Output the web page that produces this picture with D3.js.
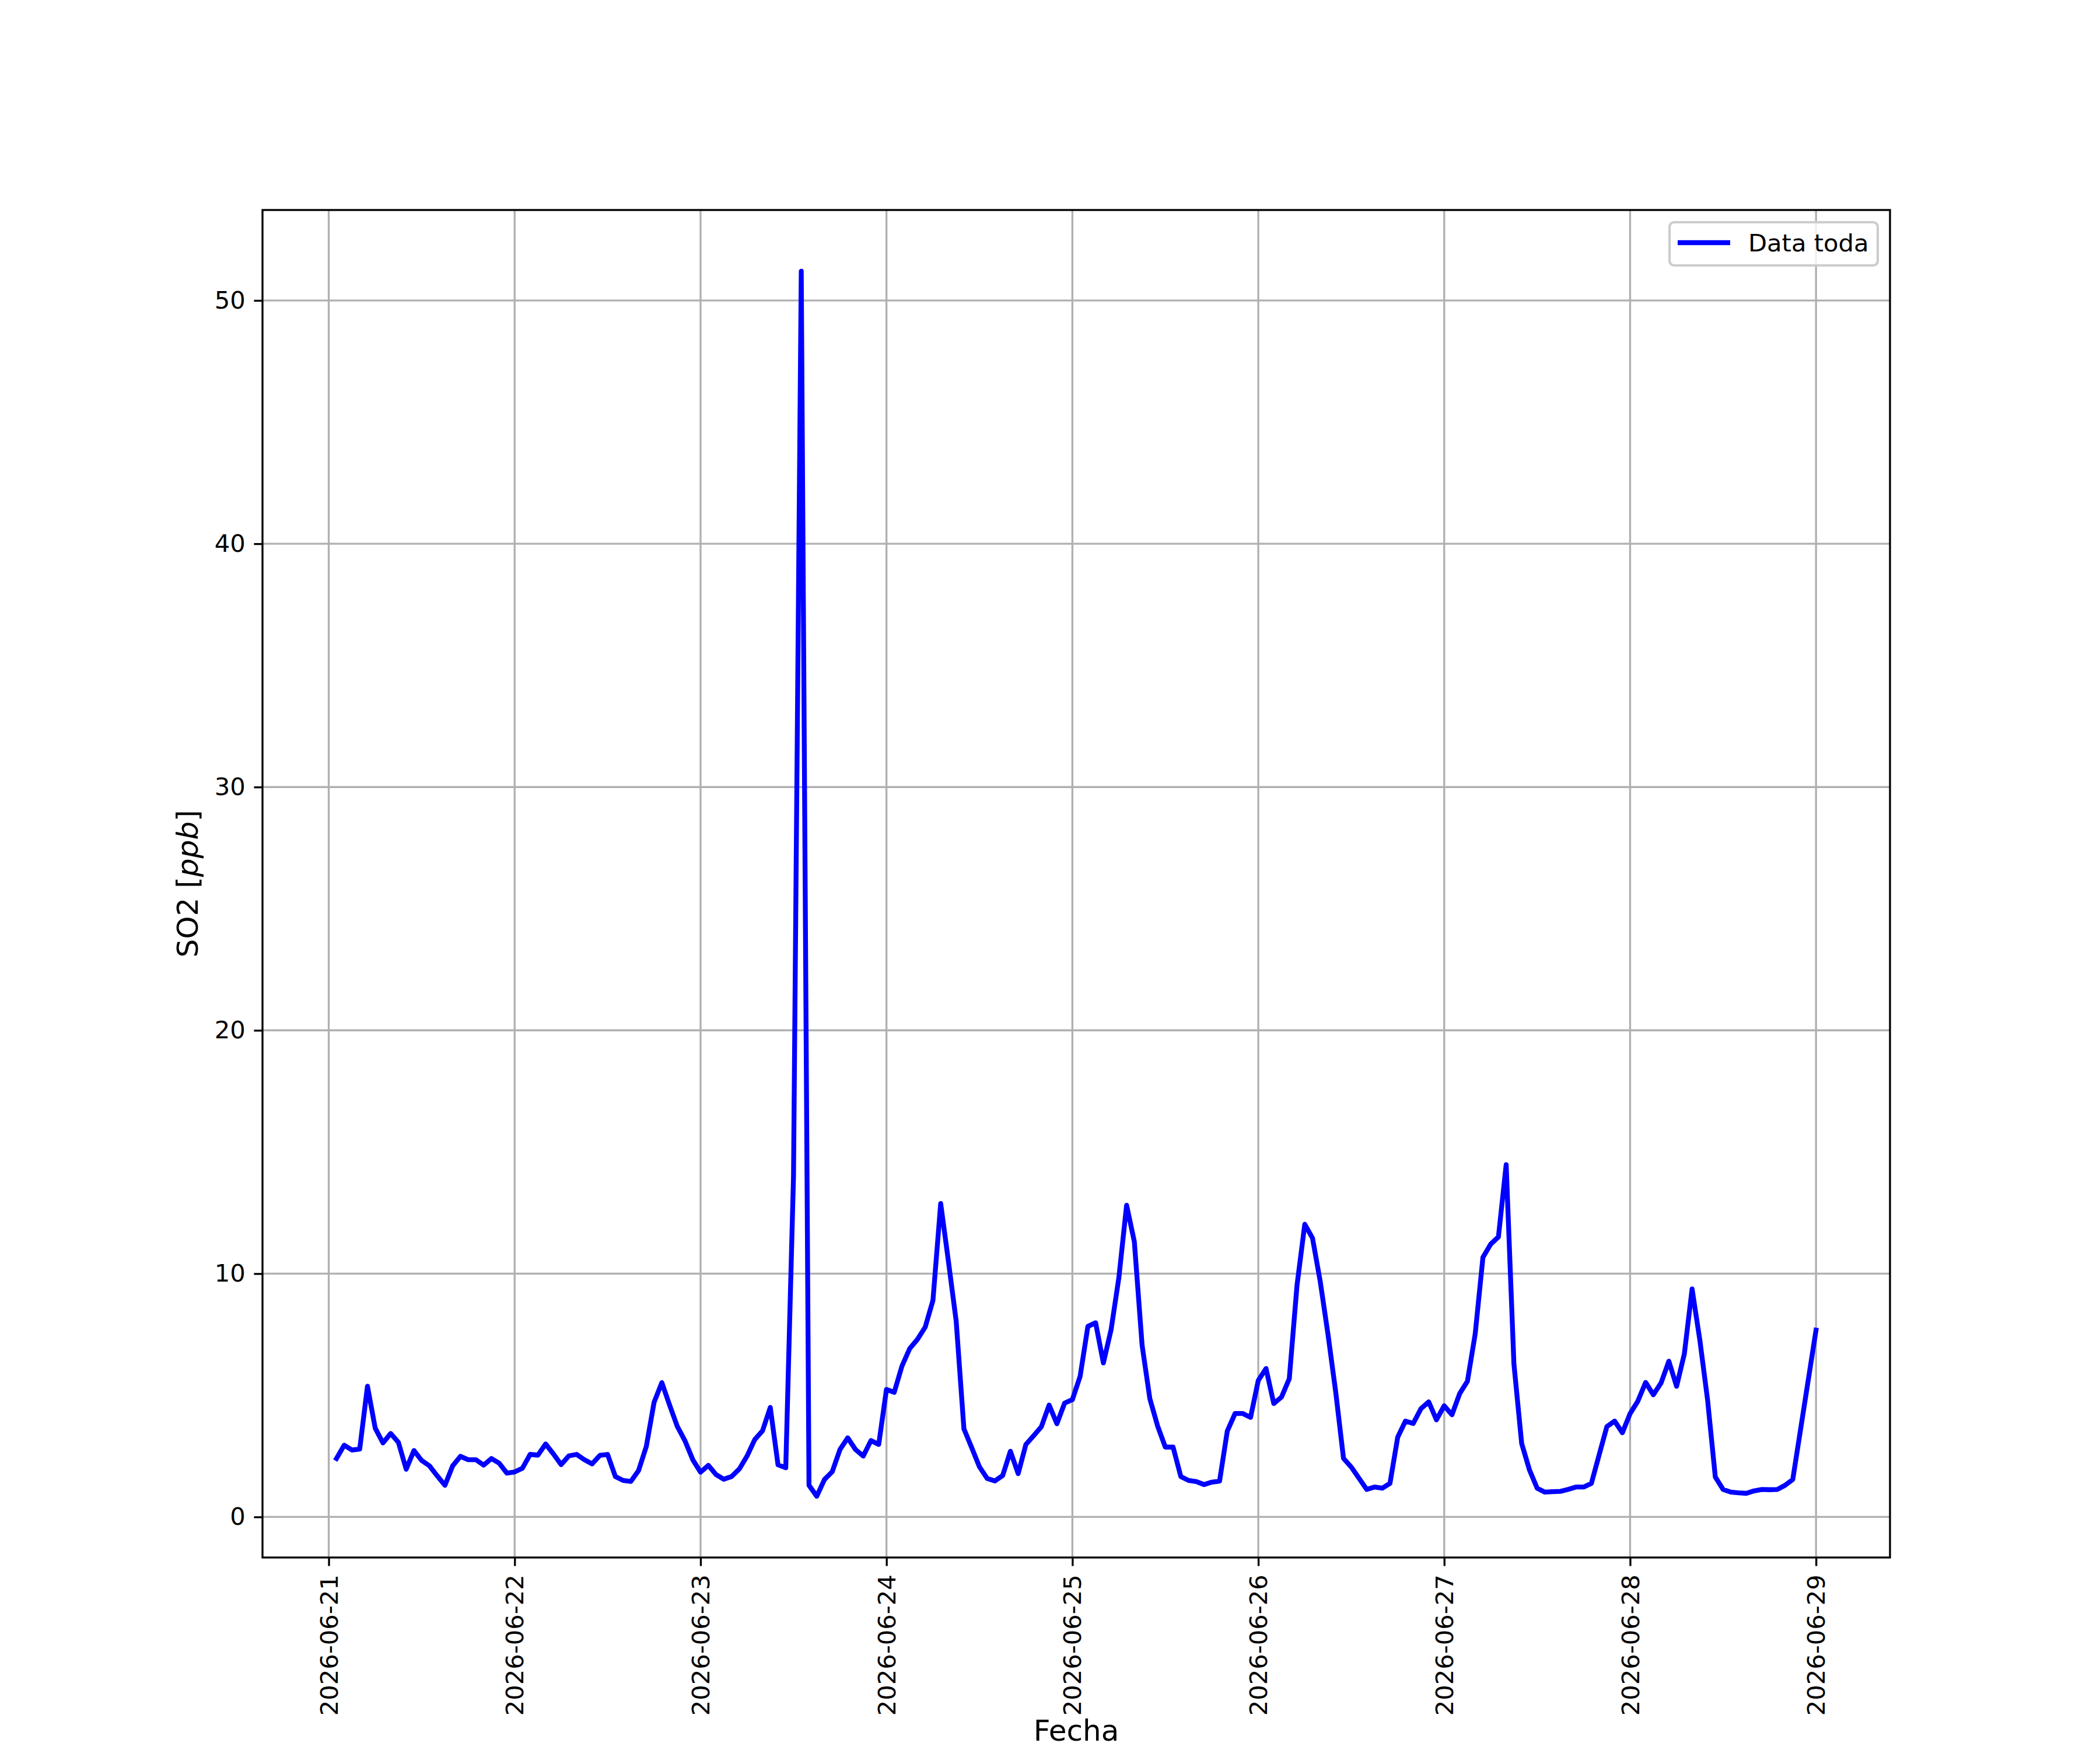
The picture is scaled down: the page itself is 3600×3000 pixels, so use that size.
<!DOCTYPE html>
<html>
<head>
<meta charset="utf-8">
<script src="https://cdn.jsdelivr.net/npm/d3@7"></script>
<style>
  html, body { margin: 0; padding: 0; background: #ffffff; }
  svg { display: block; }
</style>
</head>
<body>
<script>
// ---------------- DATA ----------------
// Hourly SO2 readings [ppb], first reading 2026-06-21 01:00, last 2026-06-29 00:00
const seriesName = "Data toda";
const firstTimestamp = "2026-06-21T01:00:00Z";
const so2Day1 = [2.40, 2.95, 2.75, 2.79, 5.37, 3.65, 3.04, 3.43, 3.06, 1.96, 2.73, 2.32,
                 2.10, 1.69, 1.30, 2.10, 2.49, 2.35, 2.35, 2.13, 2.40, 2.21, 1.80, 1.85];
const so2Day2 = [2.00, 2.57, 2.54, 3.00, 2.59, 2.15, 2.51, 2.57, 2.35, 2.18, 2.53, 2.57,
                 1.66, 1.50, 1.46, 1.91, 2.90, 4.71, 5.52, 4.60, 3.72, 3.12, 2.35, 1.84];
const so2Day3 = [2.12, 1.74, 1.55, 1.66, 1.97, 2.50, 3.18, 3.54, 4.50, 2.14, 2.02, 14.0,
                 51.2, 1.30, 0.85, 1.54, 1.86, 2.77, 3.25, 2.77, 2.50, 3.14, 2.98, 5.24];
const so2Day4 = [5.12, 6.20, 6.92, 7.30, 7.80, 8.90, 12.88, 10.5, 8.05, 3.62, 2.85, 2.06,
                 1.58, 1.48, 1.70, 2.70, 1.78, 2.98, 3.34, 3.71, 4.60, 3.83, 4.68, 4.82];
const so2Day5 = [5.78, 7.83, 7.98, 6.33, 7.70, 9.83, 12.81, 11.31, 7.06, 4.86, 3.74, 2.87,
                 2.87, 1.66, 1.50, 1.45, 1.33, 1.43, 1.47, 3.53, 4.25, 4.25, 4.09, 5.61];
const so2Day6 = [6.10, 4.66, 4.93, 5.68, 9.52, 12.03, 11.46, 9.67, 7.50, 5.12, 2.41, 2.05,
                 1.59, 1.13, 1.23, 1.18, 1.38, 3.28, 3.94, 3.84, 4.45, 4.73, 3.99, 4.57];
const so2Day7 = [4.20, 5.07, 5.58, 7.52, 10.67, 11.21, 11.51, 14.48, 6.29, 3.02, 1.94, 1.18,
                 1.02, 1.04, 1.05, 1.13, 1.23, 1.23, 1.38, 2.55, 3.71, 3.94, 3.46, 4.25];
const so2Day8 = [4.76, 5.53, 5.02, 5.51, 6.40, 5.37, 6.70, 9.37, 7.27, 4.81, 1.64, 1.13,
                 1.02, 0.99, 0.97, 1.07, 1.13, 1.12, 1.13, 1.30, 1.54, null, null, 7.68];
const yTickValues = [0, 10, 20, 30, 40, 50];
const xTickLabels = ["2026-06-21", "2026-06-22", "2026-06-23", "2026-06-24", "2026-06-25",
                     "2026-06-26", "2026-06-27", "2026-06-28", "2026-06-29"];
const xAxisTitle = "Fecha";
const yAxisTitleMain = "SO2 [";
const yAxisTitleItalic = "ppb";
const yAxisTitleEnd = "]";

// ---------------- BUILD ----------------
const allValues = [].concat(so2Day1, so2Day2, so2Day3, so2Day4, so2Day5, so2Day6, so2Day7, so2Day8);
const t0 = Date.parse(firstTimestamp);
const records = allValues
  .map((v, i) => ({ t: new Date(t0 + i * 3600 * 1000), v }))
  .filter(d => d.v !== null);

const W = 3600, H = 3000;
const PT = 300 / 72;                 // px per point at 300 dpi
const plot = { left: 450, right: 3240, top: 360, bottom: 2670 };
const fontTick = 10 * PT, fontLabel = 12 * PT;
const font = "'DejaVu Sans', 'Liberation Sans', sans-serif";

const svg = d3.select("body").append("svg")
  .attr("width", W).attr("height", H)
  .attr("viewBox", `0 0 ${W} ${H}`);
svg.append("rect").attr("width", W).attr("height", H).attr("fill", "#ffffff");

// scales with matplotlib-like 5% margins
const tExt = d3.extent(records, d => d.t.getTime());
const tPad = (tExt[1] - tExt[0]) * 0.05;
const vExt = d3.extent(records, d => d.v);
const vPad = (vExt[1] - vExt[0]) * 0.05;

const x = d3.scaleUtc()
  .domain([new Date(tExt[0] - tPad), new Date(tExt[1] + tPad)])
  .range([plot.left, plot.right]);
const y = d3.scaleLinear()
  .domain([vExt[0] - vPad, vExt[1] + vPad])
  .range([plot.bottom, plot.top]);

const xTickDates = xTickLabels.map(s => new Date(s + "T00:00:00Z"));
const fmt = d3.utcFormat("%Y-%m-%d");

// grid
const grid = svg.append("g").attr("stroke", "#b0b0b0").attr("stroke-width", 0.8 * PT);
grid.selectAll("line.gx").data(xTickDates).join("line")
  .attr("x1", d => x(d)).attr("x2", d => x(d))
  .attr("y1", plot.top).attr("y2", plot.bottom);
grid.selectAll("line.gy").data(yTickValues).join("line")
  .attr("x1", plot.left).attr("x2", plot.right)
  .attr("y1", d => y(d)).attr("y2", d => y(d));

// clip
svg.append("clipPath").attr("id", "clip").append("rect")
  .attr("x", plot.left).attr("y", plot.top)
  .attr("width", plot.right - plot.left).attr("height", plot.bottom - plot.top);

// data line
const line = d3.line().x(d => x(d.t)).y(d => y(d.v));
svg.append("path")
  .datum(records)
  .attr("clip-path", "url(#clip)")
  .attr("d", line)
  .attr("fill", "none")
  .attr("stroke", "#0000ff")
  .attr("stroke-width", 2 * PT)
  .attr("stroke-linejoin", "round")
  .attr("stroke-linecap", "square");

// axes
const tickLen = 3.5 * PT, tickPad = 3.5 * PT;
const yAxis = d3.axisLeft(y).tickValues(yTickValues).tickFormat(d3.format("d"))
  .tickSize(tickLen).tickPadding(tickPad);
const gy = svg.append("g").attr("transform", `translate(${plot.left},0)`).call(yAxis);
gy.select(".domain").remove();
gy.selectAll(".tick line").attr("stroke", "#000").attr("stroke-width", 0.8 * PT);
gy.selectAll(".tick text")
  .attr("fill", "#000").attr("font-family", font).attr("font-size", fontTick);

const xAxis = d3.axisBottom(x).tickValues(xTickDates).tickFormat(fmt)
  .tickSize(tickLen).tickPadding(tickPad);
const gx = svg.append("g").attr("transform", `translate(0,${plot.bottom})`).call(xAxis);
gx.select(".domain").remove();
gx.selectAll(".tick line").attr("stroke", "#000").attr("stroke-width", 0.8 * PT);
gx.selectAll(".tick text")
  .attr("fill", "#000").attr("font-family", font).attr("font-size", fontTick)
  .attr("transform", "rotate(-90)")
  .attr("text-anchor", "end")
  .attr("x", -(tickLen + tickPad)).attr("y", 0).attr("dy", "0.35em");

// spines
svg.append("rect")
  .attr("x", plot.left).attr("y", plot.top)
  .attr("width", plot.right - plot.left).attr("height", plot.bottom - plot.top)
  .attr("fill", "none").attr("stroke", "#000").attr("stroke-width", 0.8 * PT);

// axis titles
svg.append("text")
  .attr("x", (plot.left + plot.right) / 2).attr("y", 2984)
  .attr("text-anchor", "middle")
  .attr("font-family", font).attr("font-size", fontLabel).attr("fill", "#000")
  .text(xAxisTitle);

const yt = svg.append("text")
  .attr("transform", `translate(339,${(plot.top + plot.bottom) / 2}) rotate(-90)`)
  .attr("text-anchor", "middle")
  .attr("font-family", font).attr("font-size", fontLabel).attr("fill", "#000");
yt.append("tspan").text(yAxisTitleMain);
yt.append("tspan").attr("font-style", "italic").text(yAxisTitleItalic);
yt.append("tspan").text(yAxisTitleEnd);

// legend
const lg = svg.append("g");
const lgX = 2862, lgY = 381, lgW = 357, lgH = 74;
lg.append("rect")
  .attr("x", lgX).attr("y", lgY).attr("width", lgW).attr("height", lgH)
  .attr("rx", 8).attr("ry", 8)
  .attr("fill", "#ffffff").attr("fill-opacity", 0.8)
  .attr("stroke", "#cccccc").attr("stroke-width", 1 * PT);
lg.append("line")
  .attr("x1", 2876).attr("x2", 2966).attr("y1", 416).attr("y2", 416)
  .attr("stroke", "#0000ff").attr("stroke-width", 2 * PT).attr("stroke-linecap", "butt");
lg.append("text")
  .attr("x", 2997).attr("y", 431)
  .attr("font-family", font).attr("font-size", fontTick).attr("fill", "#000")
  .text(seriesName);
</script>
</body>
</html>
